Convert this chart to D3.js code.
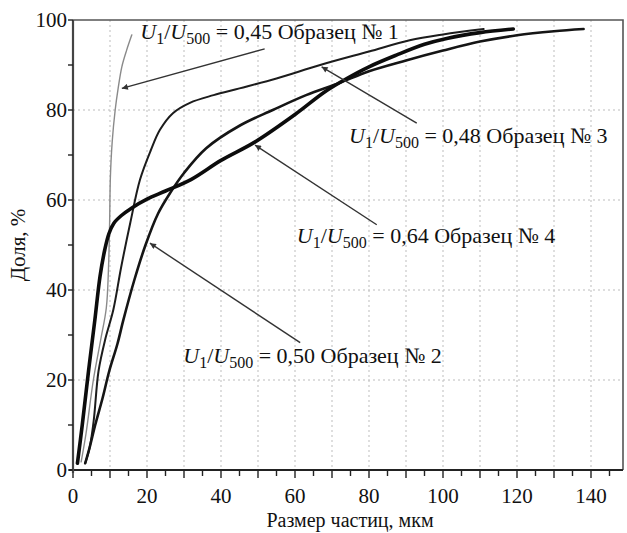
<!DOCTYPE html>
<html><head><meta charset="utf-8">
<script src="https://cdn.jsdelivr.net/npm/d3@7/dist/d3.min.js"></script>
<style>body{margin:0;background:#fff}svg{display:block}</style>
</head><body>
<svg id="c" width="627" height="533"></svg>
<script>
// ---- data ----
const xTicks = [0,20,40,60,80,100,120,140];
const yTicks = [0,20,40,60,80,100];
const xTitle = "Размер частиц, мкм";
const yTitle = "Доля, %";
// Sample 1, U1/U500 = 0,45 (thin grey)
const sample1 = [[2.2,1.8],[3.5,8],[5.5,20],[7.5,29],[9,36],[9.6,45],[9.9,55],[10.1,65],[10.6,73],[11.4,80],[12.2,84.8],[13.2,89.6],[14.5,93.3],[15.9,96.7]];
// Sample 3, U1/U500 = 0,48
const sample3 = [[3.3,1.5],[4.5,5],[5.6,11],[6.9,22],[8.7,29],[10.9,35.6],[13,45],[15.5,55],[18.1,64.5],[21,71],[23.5,75.6],[27,79.3],[31.6,81.6],[38,83.3],[45,84.8],[55,87],[66.8,90],[80,93],[91,95.5],[100,96.8],[111,98]];
// Sample 2, U1/U500 = 0,50
const sample2 = [[3.3,1.5],[4.5,5],[6,10],[8,16],[9.8,22],[12,28],[13.6,33.3],[16.5,42],[19.6,50],[23,57],[26.2,61.5],[30,66],[36,71.5],[45,76.5],[54,80],[63,83.3],[72,86],[80,88.6],[90,91],[100,93.2],[110,95.2],[120,96.6],[130,97.5],[138,98]];
// Sample 4, U1/U500 = 0,64 (thick)
const sample4 = [[1.2,1.5],[2.5,10],[4.2,22],[5.9,33.3],[7.3,43],[8.6,49],[9.7,52.5],[11,54.8],[13,56.5],[16,58.3],[20,60.2],[25,62],[32,64.6],[40,68.8],[49,72.8],[60,79],[68,84],[74,87],[80,89.6],[87.4,92.2],[95,94.6],[101,95.9],[110,97.2],[119,98]];
const labels = [
  {r:"0,45", n:"1"},
  {r:"0,48", n:"3"},
  {r:"0,64", n:"4"},
  {r:"0,50", n:"2"}
];
// label anchor (data coords) and arrow tip (data coords)
const labelPos = [[18.2,95.8],[74.6,72.6],[60.5,50.4],[29.8,23.8]];
const arrowFrom = [[51.8,93.6],[92.9,77.1],[82.1,54.5],[61.4,28.3]];
const arrowTip  = [[13.2,84.8],[67.2,89.6],[49.2,72.2],[20.8,50.4]];

// ---- layout ----
const svg = d3.select("#c");
const FONT = "Liberation Serif, DejaVu Serif";
svg.style("font-family", FONT);
const L = 73, T = 20, R = 623, B = 470;
const x = d3.scaleLinear().domain([0,140]).range([73,591]);
const y = d3.scaleLinear().domain([0,100]).range([470,20]);

// grid
const gx = d3.range(10,150,10).filter(v=>x(v)<R-2);
svg.append("g").selectAll("line").data(gx).join("line")
  .attr("x1",d=>x(d)).attr("x2",d=>x(d)).attr("y1",T).attr("y2",B)
  .attr("stroke","#bdbdbd").attr("stroke-width",1).attr("stroke-dasharray","2,3");
svg.append("g").selectAll("line").data([20,40,60,80]).join("line")
  .attr("x1",L).attr("x2",R).attr("y1",d=>y(d)).attr("y2",d=>y(d))
  .attr("stroke","#bdbdbd").attr("stroke-width",1).attr("stroke-dasharray","2,3");

// frame top/right
svg.append("path").attr("d",`M${L},${T}H${R}V${B}`).attr("fill","none").attr("stroke","#555").attr("stroke-width",1.6);

// x axis
const xAxis = svg.append("g").attr("transform",`translate(0,${B})`);
xAxis.append("line").attr("x1",L-4).attr("x2",R).attr("stroke","#222").attr("stroke-width",2);
const xm = d3.range(0,150,5).filter(v=>x(v)<=R);
xAxis.selectAll("line.t").data(xm).join("line").attr("class","t")
  .attr("x1",d=>x(d)).attr("x2",d=>x(d)).attr("y1",0).attr("y2",d=>d%10===0?8:6)
  .attr("stroke","#222").attr("stroke-width",1.4);
xAxis.selectAll("text").data(xTicks).join("text")
  .attr("x",d=>x(d)).attr("y",33).attr("text-anchor","middle")
  .attr("font-family",FONT).attr("font-size",21).attr("fill","#111").text(d=>d);

// y axis
const yAxis = svg.append("g").attr("transform",`translate(${L},0)`);
yAxis.append("line").attr("y1",T).attr("y2",B+3).attr("stroke","#444").attr("stroke-width",2.2);
yAxis.selectAll("line.t").data(d3.range(0,101,10)).join("line").attr("class","t")
  .attr("x1",-5).attr("x2",0).attr("y1",d=>y(d)).attr("y2",d=>y(d))
  .attr("stroke","#222").attr("stroke-width",1.4);
yAxis.selectAll("text").data(yTicks).join("text")
  .attr("x",-6).attr("y",d=>y(d)+7).attr("text-anchor","end")
  .attr("font-family",FONT).attr("font-size",21).attr("fill","#111").text(d=>d);

// titles
svg.append("text").attr("x",350).attr("y",527).attr("text-anchor","middle")
  .attr("font-family",FONT).attr("font-size",20).attr("fill","#111").text(xTitle);
svg.append("text").attr("transform","translate(25,245) rotate(-90)").attr("text-anchor","middle")
  .attr("font-family",FONT).attr("font-size",21).attr("fill","#111").text(yTitle);

// curves
const line = d3.line().x(d=>x(d[0])).y(d=>y(d[1])).curve(d3.curveCatmullRom.alpha(0.5));
const series = [
  {d:sample1, w:1.4, c:"#8a8a8a"},
  {d:sample3, w:2.0, c:"#1c1c1c"},
  {d:sample2, w:2.6, c:"#151515"},
  {d:sample4, w:3.6, c:"#0c0c0c"}
];
svg.append("g").selectAll("path").data(series).join("path")
  .attr("d",s=>line(s.d)).attr("fill","none").attr("stroke",s=>s.c)
  .attr("stroke-width",s=>s.w).attr("stroke-linecap","round").attr("stroke-linejoin","round");

// arrows
const defs = svg.append("defs");
defs.append("marker").attr("id","ah").attr("viewBox","0 0 10 10").attr("refX",10).attr("refY",5)
  .attr("markerWidth",7).attr("markerHeight",6).attr("markerUnits","userSpaceOnUse").attr("orient","auto")
  .append("path").attr("d","M0,0L10,5L0,10Z").attr("fill","#333");
svg.append("g").selectAll("line").data(arrowTip).join("line")
  .attr("x1",(d,i)=>x(arrowFrom[i][0])).attr("y1",(d,i)=>y(arrowFrom[i][1]))
  .attr("x2",d=>x(d[0])).attr("y2",d=>y(d[1]))
  .attr("stroke","#333").attr("stroke-width",1.4).attr("marker-end","url(#ah)");

// labels
labels.forEach((lb,i)=>{
  const t = svg.append("text").attr("x",x(labelPos[i][0])).attr("y",y(labelPos[i][1]))
    .attr("font-family",FONT).attr("font-size",22).attr("fill","#111");
  t.append("tspan").attr("font-style","italic").text("U");
  t.append("tspan").attr("font-size",16).attr("dy",5).text("1");
  t.append("tspan").attr("dy",-5).text("/");
  t.append("tspan").attr("font-style","italic").text("U");
  t.append("tspan").attr("font-size",16).attr("dy",5).text("500");
  t.append("tspan").attr("dy",-5).text(` = ${lb.r} Образец № ${lb.n}`);
});
</script>
</body></html>
